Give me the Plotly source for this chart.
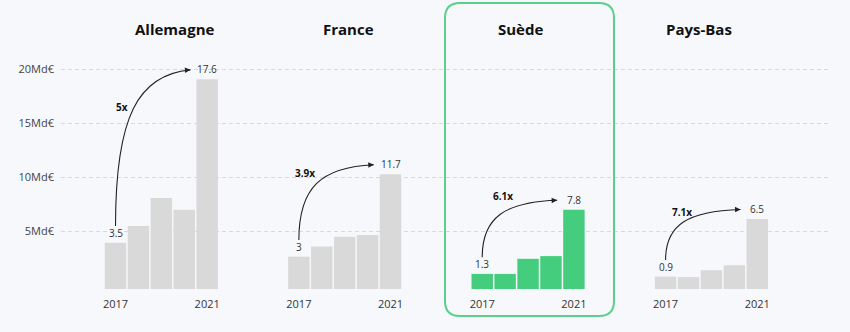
import math
import plotly.graph_objects as go

# ---------------- data ----------------
COUNTRIES = ["Allemagne", "France", "Suède", "Pays-Bas"]
YEARS = [2017, 2018, 2019, 2020, 2021]
VALUES_ALLEMAGNE = [4.3, 5.85, 8.45, 7.35, 19.45]
VALUES_FRANCE = [3.0, 3.95, 4.85, 5.0, 10.65]
VALUES_SUEDE = [1.4, 1.4, 2.8, 3.05, 7.35]
VALUES_PAYS_BAS = [1.15, 1.1, 1.75, 2.2, 6.5]
FIRST_LABELS = ["3.5", "3", "1.3", "0.9"]
LAST_LABELS = ["17.6", "11.7", "7.8", "6.5"]
MULTIPLIERS = ["5x", "3.9x", "6.1x", "7.1x"]
HIGHLIGHT = "Suède"
Y_TICKS = [5, 10, 15, 20]
Y_TICK_TEXT = ["5Md€", "10Md€", "15Md€", "20Md€"]
X_TICK_YEARS = ["2017", "2021"]

SERIES = [VALUES_ALLEMAGNE, VALUES_FRANCE, VALUES_SUEDE, VALUES_PAYS_BAS]

# ---------------- layout / style ----------------
W, H = 850, 332
ML, MR, MT, MB = 61, 20, 40, 43
PW, PH = W - ML - MR, H - MT - MB
PX_PER_X = 22.92
PX_PER_Y = 10.78
X_MIN = -(115.5 - ML) / PX_PER_X
X_MAX = X_MIN + PW / PX_PER_X
BASE = -0.38
Y_MAX = BASE + PH / PX_PER_Y
GROUP_STEP = 8
BAR_WIDTH = 0.935

BG = "#f7f8fb"
GREY = "#d9d9d9"
GREEN = "#44cd7d"
BOX_GREEN = "#5ccf8c"
TEXT = "#333333"
FONT = "Open Sans"

TITLE_PX = [174, 348.5, 520.5, 698.5]
TITLE_PY = 29
MULT_POS = [(0.28, 16.5), (0.26, 10.4), (0.89, 8.25), (0.72, 6.76)]
BOX_PX = (445, 3, 614, 316)
BOX_R = 15


def px_to_paper_x(px):
    return (px - ML) / PW


def py_to_paper_y(py):
    return (H - MB - py) / PH


fig = go.Figure()
annotations = []
shapes = []
tickvals, ticktext = [], []

for g, (country, vals) in enumerate(zip(COUNTRIES, SERIES)):
    x0 = g * GROUP_STEP
    xs = [x0 + i for i in range(len(YEARS))]
    color = GREEN if country == HIGHLIGHT else GREY
    fig.add_trace(go.Bar(
        x=xs, y=vals, base=BASE, width=BAR_WIDTH,
        marker=dict(color=color, line=dict(width=0)),
        name=country, showlegend=False, hoverinfo="skip",
    ))
    tickvals += [xs[0], xs[-1]]
    ticktext += X_TICK_YEARS

    top0 = BASE + vals[0]
    top4 = BASE + vals[-1]
    # value labels
    for xx, tt, lab in ((xs[0], top0, FIRST_LABELS[g]), (xs[-1], top4, LAST_LABELS[g])):
        annotations.append(dict(
            x=xx, y=tt, text=lab, showarrow=False, yanchor="bottom",
            xanchor="center", yshift=1,
            font=dict(family=FONT, size=10, color=TEXT)))

    # curved arrow
    sx, sy = xs[0], top0 + 1.55
    ex, ey = xs[-1] - 0.73, top4 + 0.88
    c1x, c1y = sx, sy + 0.7 * (ey - sy)
    c2x, c2y = sx + 0.3 * (ex - sx), ey - 0.03 * (ey - sy)
    shapes.append(dict(
        type="path", xref="x", yref="y",
        path=f"M {sx},{sy} C {c1x},{c1y} {c2x},{c2y} {ex},{ey}",
        line=dict(color="#222222", width=1.1), layer="above"))
    dxp = (ex - c2x) * PX_PER_X
    dyp = -(ey - c2y) * PX_PER_Y
    n = math.hypot(dxp, dyp)
    annotations.append(dict(
        x=ex, y=ey, ax=-dxp / n * 7, ay=-dyp / n * 7, text="",
        showarrow=True, arrowhead=2, arrowsize=1, arrowwidth=1.1,
        arrowcolor="#222222", standoff=0))

    # multiplier
    mx, my = MULT_POS[g]
    annotations.append(dict(
        x=x0 + mx, y=my, text=f"<b>{MULTIPLIERS[g]}</b>", showarrow=False,
        xanchor="center", yanchor="middle",
        font=dict(family=FONT, size=10, color="#111111")))

    # title
    annotations.append(dict(
        xref="paper", yref="paper", x=px_to_paper_x(TITLE_PX[g]),
        y=py_to_paper_y(TITLE_PY), text=f"<b>{country}</b>",
        showarrow=False, xanchor="center", yanchor="middle",
        font=dict(family=FONT, size=15, color="#111111")))

# highlight box with rounded corners (paper coordinates)
bx0, by0, bx1, by1 = BOX_PX
x0p, x1p = px_to_paper_x(bx0), px_to_paper_x(bx1)
yt, yb = py_to_paper_y(by0), py_to_paper_y(by1)
rx, ry = BOX_R / PW, BOX_R / PH
box_path = (
    f"M {x0p + rx},{yt} L {x1p - rx},{yt} Q {x1p},{yt} {x1p},{yt - ry} "
    f"L {x1p},{yb + ry} Q {x1p},{yb} {x1p - rx},{yb} "
    f"L {x0p + rx},{yb} Q {x0p},{yb} {x0p},{yb + ry} "
    f"L {x0p},{yt - ry} Q {x0p},{yt} {x0p + rx},{yt} Z"
)
shapes.append(dict(type="path", xref="paper", yref="paper", path=box_path,
                   line=dict(color=BOX_GREEN, width=2), layer="above"))

fig.update_layout(
    width=W, height=H,
    margin=dict(l=ML, r=MR, t=MT, b=MB, pad=0),
    paper_bgcolor=BG, plot_bgcolor=BG,
    barmode="overlay",
    annotations=annotations, shapes=shapes,
    xaxis=dict(range=[X_MIN, X_MAX], tickvals=tickvals, ticktext=ticktext,
               showgrid=False, zeroline=False, showline=False,
               ticks="outside", ticklen=5, tickcolor="rgba(0,0,0,0)",
               tickfont=dict(family=FONT, size=11, color=TEXT), fixedrange=True),
    yaxis=dict(range=[BASE, Y_MAX], tickvals=Y_TICKS, ticktext=Y_TICK_TEXT,
               showgrid=True, gridcolor="#d6d9df", griddash="4px,3px", gridwidth=1,
               zeroline=False, showline=False, ticklabelstandoff=6,
               tickfont=dict(family=FONT, size=11, color="#444444"), fixedrange=True),
)

fig.write_html("out.html", config={"displayModeBar": False})
